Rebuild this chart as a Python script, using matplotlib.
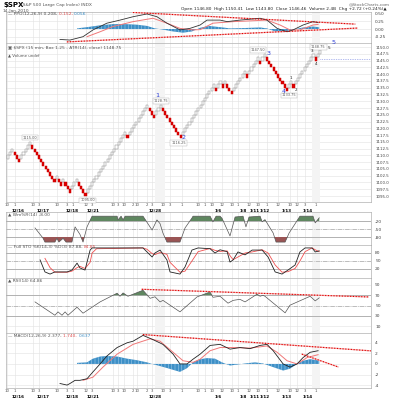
import numpy as np
import matplotlib
matplotlib.use("Agg")
import matplotlib.pyplot as plt


# ============================================================
# Layout (pixels of the 393x400 canvas)
# ============================================================

FIG_W, FIG_H, DPI = 393, 400, 100
PLOT_LEFT, PLOT_RIGHT = 6, 371
PANELS = {
    "ppo": (12, 43),
    "main": (43, 202),
    "wr": (212, 245),
    "sto": (245, 278),
    "rsi": (278, 333),
    "macd": (333, 388),
}
XLIM = (-0.9, 164.0)
SMALL = 3.2

GRID = "#e2e2e2"
REF = "#a8a8a8"
BLUE_HIST = "#3d8fc6"
SIGNAL = "#f07878"
TREND = "#e00000"

plt.rcParams["hatch.linewidth"] = 0.35


# ============================================================
# Data
# ============================================================

BOX = 1.25
renko_pivots = [1108.75, 1112.5, 1107.5, 1115.0, 1100.0, 1102.5, 1098.75, 1101.25,
                1096.25, 1101.25, 1095.0, 1118.75, 1116.25, 1128.75, 1123.75, 1128.75,
                1116.25, 1136.25, 1133.75, 1137.5, 1135.0, 1137.5, 1132.5, 1141.25,
                1138.75, 1146.25, 1143.75, 1147.5, 1133.75, 1137.5, 1135.0, 1147.5,
                1145.0, 1148.75]
last_close = 1145.5

hour_ticks = [-0.5, 3.2, 11.3, 14.0, 22.1, 26.7, 29.4, 35.2, 38.0, 47.4, 49.7, 52.4,
              56.5, 58.3, 62.8, 65.1, 70.0, 73.2, 78.6, 85.9, 89.0, 92.2, 96.7, 101.2,
              103.9, 108.9, 112.9, 117.0, 122.0, 127.4, 130.6, 134.2, 139.2]
hour_labels = ["10", "1", "10", "3", "10", "3", "1", "12", "3", "10", "3", "10",
               "2", "10", "2", "3", "10", "3", "1", "10", "1", "10", "12", "10",
               "1", "12", "10", "1", "12", "10", "12", "3", "1"]
date_ticks = [4.5, 15.8, 28.9, 38.4, 49.7, 56.5, 66.4, 78.6, 89.0, 94.9, 106.2,
              111.6, 116.1, 126.1, 135.6]
date_labels = ["12/16", "12/17", "12/18", "12/21", "12/22", "12/23", "12/28", "1/4",
               "1/5", "1/6", "1/8", "1/11", "1/12", "1/13", "1/14"]
shade_spans = [(66.4, 70.9), (137.4, 141.0)]

ppo_x = [23.5, 28.0, 33.9, 38.4, 44.7, 50.6, 56.5, 62.8, 67.3, 71.8, 77.7, 82.2, 86.8,
         89.9, 95.8, 99.0, 104.8, 113.9, 117.0, 121.6, 126.1, 128.8, 133.3, 137.8, 140.1]
ppo_y = [-0.34, -0.36, -0.25, -0.03, 0.19, 0.29, 0.40, 0.49, 0.40, 0.19, -0.03, 0.02,
         0.13, 0.29, 0.29, 0.24, 0.29, 0.35, 0.29, 0.02, -0.09, -0.03, 0.13, 0.24, 0.21]
ppo_sig_x = [35.7, 41.6, 47.4, 56.5, 65.5, 71.8, 77.7, 83.6, 86.8, 92.6, 101.7, 117.0,
             122.9, 127.4, 131.9, 137.8, 140.1]
ppo_sig_y = [-0.25, -0.09, 0.08, 0.24, 0.35, 0.19, 0.02, -0.03, -0.02, 0.19, 0.24, 0.29,
             0.13, -0.03, -0.03, 0.13, 0.15]
ppo_hist_x = [31.2, 35.7, 41.6, 47.4, 52.9, 58.3, 62.8, 66.4, 70.0, 74.6, 79.1, 83.1,
              86.8, 90.8, 95.8, 100.3, 106.2, 113.9, 117.0, 120.7, 124.3, 128.8, 133.3,
              137.8, 140.6]
ppo_hist_y = [0.02, 0.06, 0.12, 0.16, 0.16, 0.14, 0.10, 0.02, -0.02, -0.08, -0.12, -0.08,
              0.04, 0.10, 0.06, 0.02, 0.03, 0.05, 0.02, -0.08, -0.10, -0.02, 0.05, 0.08,
              0.056]
ppo_trend_hi = ([56.5, 156.8], [0.54, 0.16])
ppo_trend_lo = ([26.7, 157.7], [-0.42, 0.03])

wr_x = [12.2, 15.8, 16.7, 21.2, 22.1, 23.0, 24.9, 26.2, 28.9, 30.3, 32.5, 33.9, 35.7,
        38.0, 49.3, 49.7, 51.1, 52.0, 52.9, 61.0, 65.1, 67.3, 68.7, 70.0, 71.8, 77.7,
        80.0, 83.1, 83.6, 91.3, 92.6, 94.0, 95.8, 96.7, 100.3, 102.6, 106.2, 107.5,
        108.9, 113.9, 114.8, 116.1, 119.8, 121.1, 125.2, 127.0, 128.8, 131.9, 137.8,
        138.8, 140.6]
wr_y = [-46, -84, -99, -99, -85, -99, -85, -99, -99, -42, -70, -99, -42,
        -2, -2, -16, -2, -16, -2, -2, -54, -16, -30, -65, -99, -99,
        -46, -9, -2, -2, -23, -2, -2, -10, -76, -5, -2, -42,
        -5, -2, -23, -15, -65, -99, -99, -65, -42, -2, -2,
        -27, -8]

sto_k_x = [14.5, 16.7, 19.0, 21.2, 26.7, 28.9, 31.2, 32.5, 34.8, 37.1, 38.0, 61.0, 62.8,
           65.1, 66.4, 68.7, 71.8, 73.2, 77.7, 80.0, 83.1, 85.9, 91.3, 93.5, 95.8, 99.0,
           100.3, 101.7, 103.9, 107.1, 110.3, 114.8, 117.5, 120.7, 123.8, 126.5, 129.7,
           131.9, 134.2, 137.4, 138.8, 140.6]
sto_k_y = [54, 9, 1, 9, 9, 16, 42, 24, 16, 91, 99, 99, 84,
           65, 80, 91, 54, 9, 1, 28, 91, 99, 96, 80, 92, 85,
           46, 54, 84, 73, 91, 91, 65, 9, 1, 16, 35,
           84, 99, 99, 84, 88]
sto_d_x = [16.7, 19.0, 21.2, 26.7, 28.9, 31.2, 32.5, 34.8, 37.1, 38.0, 40.0, 61.0, 62.8,
           65.1, 66.4, 68.7, 71.8, 73.2, 77.7, 80.0, 83.1, 85.9, 91.3, 93.5, 95.8, 99.0,
           100.3, 101.7, 103.9, 107.1, 110.3, 114.8, 117.5, 120.7, 123.8, 126.5, 129.7,
           131.9, 134.2, 137.4, 138.8, 140.6]
sto_d_y = [60, 25, 8, 8, 12, 25, 30, 22, 45, 80, 96, 99, 94,
           78, 74, 82, 75, 45, 8, 12, 50, 85, 97, 90, 86, 88,
           70, 55, 65, 80, 84, 92, 80, 35, 8, 10, 22,
           50, 85, 99, 92, 85]

rsi_x = [12.2, 21.2, 22.6, 24.4, 25.8, 27.1, 31.2, 33.9, 41.6, 49.3, 50.6, 52.0, 54.2,
         61.0, 64.2, 66.4, 68.7, 70.0, 77.7, 85.4, 91.3, 92.6, 95.8, 99.4, 101.7, 104.8,
         107.1, 112.5, 113.9, 115.2, 116.1, 125.2, 127.4, 136.5, 138.8, 140.6]
rsi_y = [57, 31, 37.6, 31, 37.6, 31, 46.7, 35, 57, 74, 68, 74.5, 68,
         79.7, 64, 67, 57, 60, 37.6, 66.7, 76.4, 66, 68, 54.5, 60, 62,
         57, 72, 68, 70, 68, 35.7, 50.6, 68, 59, 64.9]
rsi_trend = ([60.5, 162.7], [81.6, 66.7])

macd_x = [23.5, 26.7, 28.0, 30.3, 32.5, 35.7, 38.4, 41.6, 44.7, 49.3, 53.8, 56.5, 61.0,
          65.5, 70.0, 74.6, 77.7, 80.9, 83.6, 86.8, 91.3, 95.8, 100.3, 104.8, 109.4,
          113.9, 117.0, 119.8, 124.3, 127.4, 130.6, 133.3, 136.5, 140.1]
macd_y = [-3.7, -4.0, -3.7, -3.1, -3.1, -2.8, -1.5, 0.0, 1.5, 3.1, 4.0, 4.3, 5.4,
          4.6, 3.7, 1.85, 0.0, 0.0, 0.9, 1.85, 3.5, 3.7, 2.8, 3.1, 2.9,
          3.5, 3.7, 2.5, 0.0, -0.6, 0.0, 1.2, 2.2, 2.5]
macd_sig_x = [33.9, 38.4, 42.9, 49.3, 56.5, 64.2, 68.7, 74.6, 79.1, 83.6, 86.8, 91.3,
              95.8, 101.7, 109.4, 117.0, 121.6, 126.1, 130.6, 135.1, 140.1]
macd_sig_y = [-3.1, -2.5, -0.6, 1.85, 3.7, 4.75, 4.3, 2.2, 0.6, 0.3, 0.9, 2.5,
              3.1, 3.1, 3.0, 3.4, 2.2, 0.6, 0.0, 1.2, 1.75]
macd_hist_x = [31.2, 35.7, 38.4, 41.6, 44.7, 49.3, 53.8, 58.3, 62.8, 65.1, 68.7, 72.9,
               77.7, 80.9, 83.6, 86.8, 89.9, 93.5, 96.7, 100.3, 103.9, 107.1, 111.6,
               115.2, 119.8, 124.3, 127.4, 130.6, 133.3, 136.5, 140.6]
macd_hist_y = [0.2, 0.3, 1.0, 1.4, 1.5, 1.4, 1.0, 0.7, 0.3, 0.0, -0.4, -0.9,
               -1.5, -0.8, 0.3, 0.9, 1.1, 1.0, 0.3, -0.3, -0.1, 0.1, 0.3,
               0.1, -0.6, -1.25, -0.9, 0.0, 0.6, 0.9, 0.64]
macd_trend_1 = ([61.0, 164.5], [5.55, 2.46])
macd_trend_2 = ([132.8, 149.1], [1.85, -0.56])


# ============================================================
# Helpers
# ============================================================

def build_renko(pivots, box):
    """Turn swing pivots into renko bricks (bottom, direction) per column."""
    units = [int(round(p / box)) for p in pivots]
    lo, hi = units[0] - 1, units[0]
    bottoms, ups, pivot_idx = [], [], [0]
    for target in units[1:]:
        if target > hi:
            while hi < target:
                lo, hi = hi, hi + 1
                bottoms.append(lo * box)
                ups.append(True)
        else:
            while lo > target:
                lo, hi = lo - 1, lo
                bottoms.append(lo * box)
                ups.append(False)
        pivot_idx.append(len(bottoms) - 1)
    return np.array(bottoms), np.array(ups), pivot_idx


def add_panel(fig, key, ylim, yticks, ylabels):
    top, bottom = PANELS[key]
    ax = fig.add_axes([PLOT_LEFT / FIG_W, 1 - bottom / FIG_H,
                       (PLOT_RIGHT - PLOT_LEFT) / FIG_W, (bottom - top) / FIG_H])
    ax.set_xlim(*XLIM)
    ax.set_ylim(*ylim)
    ax.yaxis.tick_right()
    ax.set_yticks(yticks, ylabels)
    ax.tick_params(axis="y", length=0, labelsize=SMALL, colors="#444", pad=3)
    ax.set_xticks(hour_ticks, [""] * len(hour_ticks))
    ax.tick_params(axis="x", length=0)
    for y in yticks:
        ax.axhline(y, color=GRID, lw=0.4, zorder=0)
    for x in hour_ticks:
        ax.axvline(x, color=GRID, lw=0.4, zorder=0)
    for a, b in shade_spans:
        ax.axvspan(a, b, color="#f4f4f4", lw=0, zorder=0)
    for s in ax.spines.values():
        s.set_color("#b0b0b0")
        s.set_linewidth(0.5)
    return ax


def date_axis(ax):
    ax.set_xticks(hour_ticks, hour_labels)
    ax.tick_params(axis="x", labelsize=2.8, colors="#555", pad=1)
    ax.set_xticks(date_ticks, date_labels, minor=True)
    ax.tick_params(axis="x", which="minor", length=0, labelsize=3.0, pad=5)
    for lab in ax.get_xticklabels(minor=True):
        lab.set_fontweight("bold")


def legend(ax, parts, marker="\u2014"):
    t = ax.text(0.006, 0.985, marker + " " + parts[0][0], transform=ax.transAxes,
                fontsize=SMALL, color=parts[0][1], va="top", ha="left")
    for text, color in parts[1:]:
        t = ax.annotate(text, xy=(1, 0), xycoords=t, va="bottom", ha="left",
                        fontsize=SMALL, color=color)


def trendline(ax, line):
    ax.plot(line[0], line[1], color="#f4a0a0", lw=0.9, zorder=3)
    ax.plot(line[0], line[1], color=TREND, lw=0.8, ls=(0, (1, 1.5)), zorder=4)


def histogram(ax, x, y):
    ax.fill_between(x, 0, y, facecolor=BLUE_HIST, edgecolor="#a9d2ee",
                    hatch="|||||", lw=0, zorder=2)


def px(x, y):
    return x / FIG_W, 1 - y / FIG_H


# ============================================================
# Main
# ============================================================

def main():
    fig = plt.figure(figsize=(FIG_W / DPI, FIG_H / DPI), dpi=DPI)
    fig.patch.set_facecolor("white")

    # header
    fig.text(*px(3, 5), "$SPX", fontsize=5, fontweight="bold", va="center")
    fig.text(*px(21, 5), "(S&P 500 Large Cap Index) INDX", fontsize=SMALL,
             color="#555", va="center")
    fig.text(*px(3, 11), "14-Jan-2010", fontsize=SMALL, color="#555", va="center")
    fig.text(*px(390, 4), "@StockCharts.com", fontsize=SMALL, color="#666",
             va="center", ha="right")
    fig.text(*px(181, 9), "Open 1146.80  High 1150.41  Low 1143.80  Close 1146.46  "
             "Volume 2.4B  Chg +2.72 (+0.24%)\u25b2", fontsize=3.05, color="#222",
             va="center")

    # PPO
    ax = add_panel(fig, "ppo", (-0.456, 0.554), [0.5, 0.25, 0.0, -0.25],
                   ["0.50", "0.25", "0.00", "-0.25"])
    histogram(ax, ppo_hist_x, ppo_hist_y)
    ax.plot(ppo_sig_x, ppo_sig_y, color=SIGNAL, lw=0.7, zorder=3)
    ax.plot(ppo_x, ppo_y, color="#333", lw=0.6, zorder=4)
    trendline(ax, ppo_trend_hi)
    trendline(ax, ppo_trend_lo)
    legend(ax, [("PPO(12,26,9) 0.208, ", "#555"), ("0.152, ", "#e05050"),
                ("0.056", "#3d8fc6")])

    # Renko price panel
    bottoms, ups, pivot_idx = build_renko(renko_pivots, BOX)
    main_ticks = np.arange(1150.0, 1094.0, -2.5)
    ax = add_panel(fig, "main", (1092.8, 1151.5), main_ticks,
                   [f"{v:.1f}" for v in main_ticks])
    ax.tick_params(axis="y", labelsize=2.9)
    idx = np.arange(len(bottoms))
    ax.bar(idx[ups], BOX, bottom=bottoms[ups], width=0.95, color="white",
           edgecolor="#8a8a8a", lw=0.35, zorder=3)
    ax.bar(idx[~ups], BOX, bottom=bottoms[~ups], width=0.95, color="#dd0000",
           edgecolor="#cc0000", lw=0.35, zorder=3)
    ax.hlines(last_close, idx[-1], XLIM[1], color="#6a7ae0", lw=0.5, ls=(0, (1, 1.5)))
    date_axis(ax)
    legend(ax, [("$SPX (15 min, Box 1.25 - ATR(14), close) 1148.75", "#555")],
           marker="\u25a3")
    ax.text(0.006, 0.935, "\u25b2 Volume undef", transform=ax.transAxes,
            fontsize=2.8, color="#555", va="top")

    box_style = dict(boxstyle="square,pad=0.25", fc="white", ec="#b0b0b0", lw=0.3)

    def price_label(k, text, dx, dy):
        i = pivot_idx[k]
        ax.text(i + dx, renko_pivots[k] + dy, text, fontsize=2.5, color="#555",
                ha="center", va="center", bbox=box_style, zorder=5)

    def wave(k, text, dx, dy, blue=False):
        i = pivot_idx[k]
        ax.text(i + dx, renko_pivots[k] + dy, text, ha="center", va="center",
                fontsize=4.6 if blue else 3.0, zorder=6,
                color="#2a3bd6" if blue else "#222")

    price_label(3, "1115.00", 0, 1.6)
    price_label(10, "1095.00", 1, -1.6)
    price_label(15, "1128.75", 0, 1.4)
    wave(15, "1", -1.5, 3.4, True)
    price_label(16, "1116.25", -1, -1.6)
    wave(16, "2", 1.2, 0.4, True)
    price_label(27, "1147.50", -3.0, 1.4)
    wave(27, "3", 1.6, 0.3, True)
    price_label(28, "1133.75", 1, -1.6)
    wave(28, "4", -1.5, -0.2, True)
    wave(29, "1", 0, 1.2)
    wave(30, "2", 1.2, -0.9)
    wave(31, "3", -0.5, 1.2)
    wave(32, "4", 0, -1.2)
    price_label(33, "1148.75", -0.8, 1.3)
    wave(33, "5", 6.0, 2.8, True)
    wave(33, "5", 4.2, 0.9)

    # Williams %R
    ax = add_panel(fig, "wr", (-110, 13.75), [-20, -50, -80], ["-20", "-50", "-80"])
    ax.axhline(-20, color=REF, lw=0.6, zorder=1)
    ax.axhline(-80, color=REF, lw=0.6, zorder=1)
    ax.axhline(-50, color=REF, lw=0.5, ls="-.", zorder=1)
    wx, wy = np.array(wr_x), np.array(wr_y)
    ax.fill_between(wx, wy, -20, where=wy >= -20, interpolate=True, color="#5f8760",
                    lw=0, zorder=2)
    ax.fill_between(wx, wy, -80, where=wy <= -80, interpolate=True, color="#9a5555",
                    lw=0, zorder=2)
    ax.plot(wx, wy, color="#555", lw=0.5, zorder=3)
    legend(ax, [("Wm%R(14) -8.00", "#555")], marker="\u25b2")

    # Full stochastics
    ax = add_panel(fig, "sto", (-13.75, 110), [80, 50, 20], ["80", "50", "20"])
    ax.axhline(80, color=REF, lw=0.6, zorder=1)
    ax.axhline(20, color=REF, lw=0.6, zorder=1)
    ax.axhline(50, color=REF, lw=0.5, ls="-.", zorder=1)
    ax.plot(sto_d_x, sto_d_y, color="#f05050", lw=0.6, zorder=3)
    ax.plot(sto_k_x, sto_k_y, color="#222", lw=0.6, zorder=4)
    legend(ax, [("Full STO %K(14,3) %D(3) 87.88, ", "#555"), ("84.85", "#e05050")])

    # RSI
    ax = add_panel(fig, "rsi", (-3.6, 103.6), [90, 70, 50, 30, 10],
                   ["90", "70", "50", "30", "10"])
    ax.axhline(70, color=REF, lw=0.6, zorder=1)
    ax.axhline(30, color=REF, lw=0.6, zorder=1)
    ax.axhline(50, color=REF, lw=0.5, ls="-.", zorder=1)
    rx, ry = np.array(rsi_x), np.array(rsi_y)
    ax.fill_between(rx, ry, 70, where=ry >= 70, interpolate=True, color="#5f8760",
                    lw=0, zorder=2)
    ax.plot(rx, ry, color="#555", lw=0.5, zorder=3)
    trendline(ax, rsi_trend)
    legend(ax, [("RSI(14) 64.86", "#555")], marker="\u25b2")

    # MACD
    ax = add_panel(fig, "macd", (-4.55, 5.85), [4, 2, 0, -2, -4],
                   ["4", "2", "0", "-2", "-4"])
    histogram(ax, macd_hist_x, macd_hist_y)
    ax.plot(macd_sig_x, macd_sig_y, color=SIGNAL, lw=0.7, zorder=3)
    ax.plot(macd_x, macd_y, color="#222", lw=0.6, zorder=4)
    trendline(ax, macd_trend_1)
    trendline(ax, macd_trend_2)
    date_axis(ax)
    legend(ax, [("MACD(12,26,9) 2.377, ", "#555"), ("1.740, ", "#e05050"),
                ("0.637", "#3d8fc6")])

    fig.savefig("out.png", dpi=DPI)
    plt.close(fig)


if __name__ == "__main__":
    main()
